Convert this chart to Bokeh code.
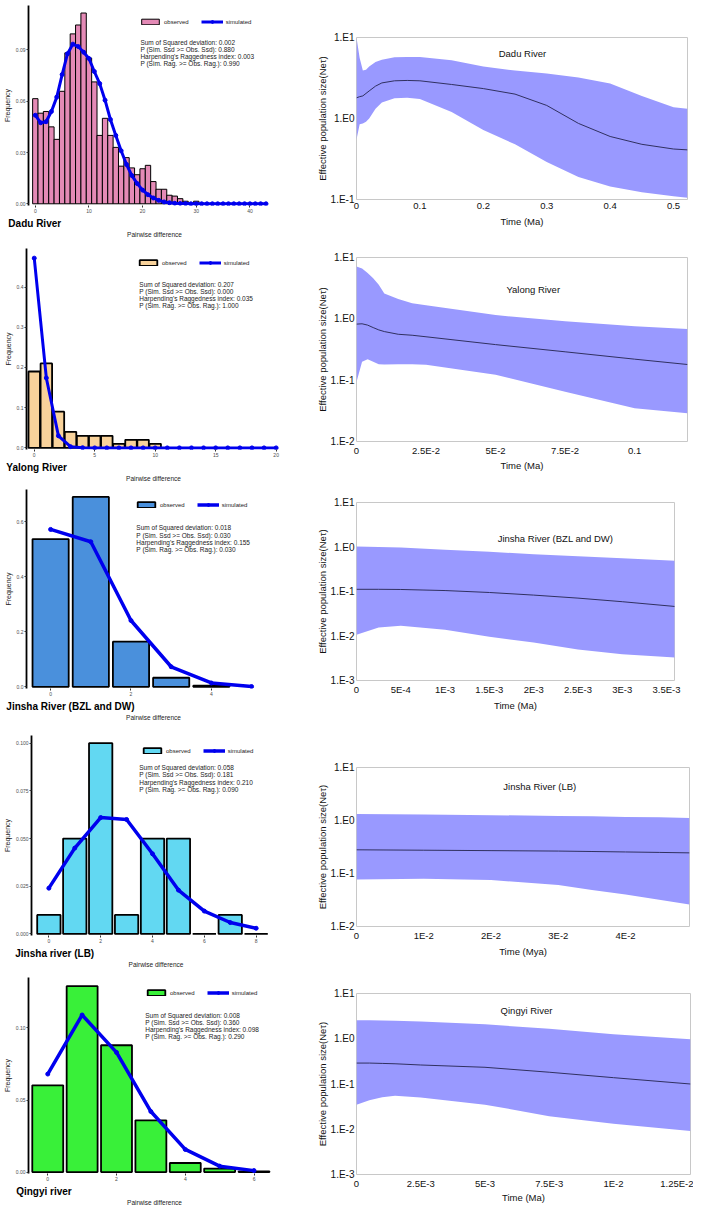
from bokeh.plotting import figure
from bokeh.layouts import row, column
from bokeh.models import (FixedTicker, PrintfTickFormatter, CustomJSTickFormatter,
                          Label, Legend, LegendItem, Range1d, Title)
from bokeh.embed import file_html
from bokeh.resources import INLINE

FONT = "Liberation Sans"

# ------------------------------------------------------------------ data
# Mismatch distributions: frequency per pairwise difference (0, 1, 2, ...)
dadu_observed = [0.0615, 0.053, 0.054, 0.045, 0.0377, 0.0658, 0.0883, 0.0994, 0.1046, 0.1116,
                 0.0853, 0.0713, 0.040, 0.050, 0.040, 0.033, 0.022, 0.027, 0.021, 0.017,
                 0.0205, 0.0225, 0.013, 0.0085, 0.0085, 0.005, 0.0045, 0.003, 0.0015, 0.0, 0.0015]
dadu_simulated = [0.0518, 0.0474, 0.048, 0.054, 0.0624, 0.0756, 0.0878, 0.0934, 0.092, 0.0887,
                  0.085, 0.0774, 0.0703, 0.0606, 0.0493, 0.040, 0.031, 0.023, 0.0165, 0.0118,
                  0.008, 0.0053, 0.0034, 0.002, 0.0011, 0.0006, 0.0003, 0.0002, 0.0001, 0.0,
                  0.0, 0.0, 0.0, 0.0, 0.0, 0.0, 0.0, 0.0, 0.0, 0.0, 0.0, 0.0, 0.0, 0.0]
yalong_observed = [0.19, 0.21, 0.09, 0.04, 0.03, 0.03, 0.03, 0.01, 0.02, 0.02, 0.01]
yalong_simulated = [0.472, 0.174, 0.030, 0.003, 0.0005, 0.0, 0.0, 0.0, 0.0, 0.0, 0.0,
                    0.0, 0.0, 0.0, 0.0, 0.0, 0.0, 0.0, 0.0, 0.0, 0.0]
jinsha_bd_observed = [0.537, 0.690, 0.164, 0.033, 0.004]
jinsha_bd_simulated = [0.572, 0.527, 0.241, 0.073, 0.014, 0.001]
jinsha_lb_observed = [0.01, 0.05, 0.10, 0.01, 0.05, 0.05, 0.0, 0.01, 0.0]
jinsha_lb_simulated = [0.024, 0.045, 0.061, 0.060, 0.042, 0.023, 0.012, 0.006, 0.003]
qingyi_observed = [0.0602, 0.129, 0.088, 0.0359, 0.0063, 0.0024, 0.0004]
qingyi_simulated = [0.068, 0.109, 0.083, 0.042, 0.0157, 0.0041, 0.001]

river_names_left = ["Dadu River", "Yalong River", "Jinsha River (BZL and DW)",
                    "Jinsha river (LB)", "Qingyi river"]
stats_values = [
    ["0.002", "0.880", "0.003", "0.990"],
    ["0.207", "0.000", "0.035", "1.000"],
    ["0.018", "0.030", "0.155", "0.030"],
    ["0.058", "0.181", "0.210", "0.090"],
    ["0.008", "0.360", "0.098", "0.290"],
]
stats_names = ["Sum of Squared deviation: ", "P (Sim. Ssd >= Obs. Ssd): ",
               "Harpending's Raggedness index: ", "P (Sim. Rag. >= Obs. Rag.): "]

# Bayesian skyline plots: time, lower 95% HPD, median, upper 95% HPD
dadu_time = [0, 0.005, 0.01, 0.015, 0.02, 0.03, 0.04, 0.06, 0.08, 0.1, 0.15, 0.2, 0.25, 0.3,
             0.35, 0.4, 0.45, 0.5, 0.522]
dadu_lower = [0.55, 0.85, 0.87, 0.91, 1.0, 1.32, 1.58, 1.78, 1.8, 1.74, 1.2, 0.72, 0.48, 0.29,
              0.19, 0.145, 0.123, 0.11, 0.105]
dadu_median = [1.8, 1.86, 1.9, 2.04, 2.19, 2.51, 2.75, 2.92, 2.95, 2.92, 2.63, 2.34, 2.0, 1.45,
               0.87, 0.60, 0.48, 0.42, 0.41]
dadu_upper = [10.0, 5.6, 3.9, 4.0, 4.4, 5.0, 5.3, 5.7, 5.75, 5.75, 5.25, 4.4, 3.9, 3.6, 3.2,
              2.7, 1.9, 1.38, 1.32]

yalong_time = [0, 0.002, 0.004, 0.006, 0.008, 0.01, 0.015, 0.02, 0.025, 0.05, 0.075, 0.1, 0.119]
yalong_lower = [0.093, 0.2, 0.22, 0.2, 0.182, 0.18, 0.182, 0.182, 0.178, 0.123, 0.065, 0.035, 0.029]
yalong_median = [0.82, 0.83, 0.79, 0.72, 0.66, 0.62, 0.56, 0.54, 0.51, 0.38, 0.29, 0.22, 0.18]
yalong_upper = [7.1, 6.6, 5.6, 4.6, 3.6, 2.6, 2.1, 1.8, 1.66, 1.15, 0.91, 0.76, 0.68]

jinsha_bd_time = [0, 0.00025, 0.0005, 0.001, 0.0015, 0.002, 0.0025, 0.003, 0.0036]
jinsha_bd_lower = [0.0107, 0.0155, 0.017, 0.0138, 0.0096, 0.0071, 0.0050, 0.0039, 0.0033]
jinsha_bd_median = [0.112, 0.112, 0.111, 0.105, 0.095, 0.083, 0.071, 0.059, 0.046]
jinsha_bd_upper = [1.02, 1.0, 0.98, 0.87, 0.78, 0.69, 0.62, 0.56, 0.49]

jinsha_lb_time = [0, 0.01, 0.02, 0.03, 0.035, 0.04, 0.045, 0.0495]
jinsha_lb_lower = [0.077, 0.080, 0.075, 0.061, 0.049, 0.040, 0.032, 0.026]
jinsha_lb_median = [0.28, 0.275, 0.27, 0.265, 0.26, 0.255, 0.25, 0.245]
jinsha_lb_upper = [1.32, 1.30, 1.26, 1.22, 1.2, 1.17, 1.15, 1.12]

qingyi_time = [0, 0.0005, 0.001, 0.0015, 0.0025, 0.005, 0.0075, 0.01, 0.013]
qingyi_lower = [0.035, 0.044, 0.051, 0.055, 0.05, 0.035, 0.0195, 0.0132, 0.0091]
qingyi_median = [0.29, 0.29, 0.285, 0.28, 0.263, 0.234, 0.182, 0.138, 0.10]
qingyi_upper = [2.57, 2.57, 2.54, 2.51, 2.4, 2.09, 1.66, 1.26, 0.98]

river_names_right = ["Dadu River", "Yalong River", "Jinsha River (BZL and DW)",
                     "Jinsha River (LB)", "Qingyi River"]
time_labels = ["Time (Ma)", "Time (Ma)", "Time (Ma)", "Time (Mya)", "Time (Ma)"]

x_ticks_right = [
    [0, 0.1, 0.2, 0.3, 0.4, 0.5],
    [0, 0.025, 0.05, 0.075, 0.1],
    [0, 0.0005, 0.001, 0.0015, 0.002, 0.0025, 0.003, 0.0035],
    [0, 0.01, 0.02, 0.03, 0.04],
    [0, 0.0025, 0.005, 0.0075, 0.01, 0.0125],
]
x_tick_labels_right = [
    ["0", "0.1", "0.2", "0.3", "0.4", "0.5"],
    ["0", "2.5E-2", "5E-2", "7.5E-2", "0.1"],
    ["0", "5E-4", "1E-3", "1.5E-3", "2E-3", "2.5E-3", "3E-3", "3.5E-3"],
    ["0", "1E-2", "2E-2", "3E-2", "4E-2"],
    ["0", "2.5E-3", "5E-3", "7.5E-3", "1E-2", "1.25E-2"],
]

# ------------------------------------------------------------------ layout constants
TOTAL_W, TOTAL_H = 693, 1205
KX, KY = TOTAL_W / 709, TOTAL_H / 1221       # reference px -> page px
LW = 284
RW = TOTAL_W - LW
L_LEFT, L_RIGHT = 26, 4                       # left-panel borders
R_LEFT = 72
BELOW_L = 29
BAND = "#9999FF"
SIM_BLUE = "#0000EE"

left_geom = [
    dict(top=5, bottom=211, leg=(140, 25), stats=(142, 43), river=6, pw=150),
    dict(top=251, bottom=458, leg=(140, 269), stats=(142, 288), river=6, pw=151),
    dict(top=495, bottom=700, leg=(138, 514), stats=(139, 535), river=6, pw=152),
    dict(top=745, bottom=950, leg=(139, 763), stats=(139, 778), river=10, pw=154),
    dict(top=990, bottom=1193, leg=(146, 1010), stats=(147, 1029), river=14, pw=160),
]
left_style = [
    dict(color="#E48AB6", bw=1.0, blw=1.0, lw=3.0, ms=4, xr=(-1.27, 45.7), yr=(-0.001, 0.116),
         xt=[0, 10, 20, 30, 40], yt=[0, 0.03, 0.06, 0.09], fmt="%.2f"),
    dict(color="#F8D29B", bw=0.95, blw=1.8, lw=3.0, ms=4, xr=(-0.64, 20.36), yr=(-0.004, 0.496),
         xt=[0, 5, 10, 15, 20], yt=[0, 0.1, 0.2, 0.3, 0.4], fmt="%.1f"),
    dict(color="#4A90DC", bw=0.9, blw=1.8, lw=3.5, ms=4, xr=(-0.6, 5.72), yr=(-0.006, 0.717),
         xt=[0, 2, 4], yt=[0, 0.2, 0.4, 0.6], fmt="%.1f"),
    dict(color="#62D8F2", bw=0.9, blw=1.8, lw=3.5, ms=4, xr=(-0.67, 8.94), yr=(-0.0008, 0.104),
         xt=[0, 2, 4, 6, 8], yt=[0, 0.025, 0.05, 0.075, 0.1], fmt="%.3f"),
    dict(color="#39F039", bw=0.9, blw=1.8, lw=3.5, ms=4, xr=(-0.56, 6.77), yr=(-0.001, 0.135),
         xt=[0, 2, 4, 6], yt=[0, 0.05, 0.10], fmt="%.2f"),
]
right_geom = [
    dict(top=37, bottom=202, left=364, right=703, tx=534, ty=53, xls=4, dec=(-1, 1), xr=(0, 0.522)),
    dict(top=260, bottom=447, left=364, right=703, tx=545, ty=293, xls=1, dec=(-2, 1), xr=(0, 0.119)),
    dict(top=509, bottom=690, left=364, right=690, tx=568, ty=546, xls=2, dec=(-3, 1), xr=(0, 0.00359)),
    dict(top=777, bottom=943, left=367, right=705, tx=553, ty=797, xls=2, dec=(-2, 1), xr=(0, 0.0495)),
    dict(top=1006, bottom=1194, left=368, right=706, tx=540, ty=1024, xls=0, dec=(-3, 1), xr=(0, 0.0130)),
]
RIGHT_BOUNDS_REF = [0, 240, 480, 722, 972]

observed_sets = [dadu_observed, yalong_observed, jinsha_bd_observed, jinsha_lb_observed, qingyi_observed]
simulated_sets = [dadu_simulated, yalong_simulated, jinsha_bd_simulated, jinsha_lb_simulated, qingyi_simulated]
sky_sets = [
    (dadu_time, dadu_lower, dadu_median, dadu_upper),
    (yalong_time, yalong_lower, yalong_median, yalong_upper),
    (jinsha_bd_time, jinsha_bd_lower, jinsha_bd_median, jinsha_bd_upper),
    (jinsha_lb_time, jinsha_lb_lower, jinsha_lb_median, jinsha_lb_upper),
    (qingyi_time, qingyi_lower, qingyi_median, qingyi_upper),
]

# vertical bounds of the left panels (frame bottom + room for axis and two titles)
left_bounds = [0]
for g in left_geom[:-1]:
    left_bounds.append(round(g["bottom"] * KY) + BELOW_L)
left_bounds.append(TOTAL_H)
right_bounds = [round(b * KY) for b in RIGHT_BOUNDS_REF] + [TOTAL_H]


def left_panel(i):
    g, st = left_geom[i], left_style[i]
    obs, sim = observed_sets[i], simulated_sets[i]
    top, h = left_bounds[i], left_bounds[i + 1] - left_bounds[i]
    ft = round(g["top"] * KY) - top
    fb = round(g["bottom"] * KY) - top
    fw = LW - L_LEFT - L_RIGHT
    fh = fb - ft
    xr, yr = st["xr"], st["yr"]
    p = figure(width=LW, height=h, x_range=Range1d(*xr), y_range=Range1d(*yr), title=None,
               toolbar_location=None, output_backend="svg",
               min_border_left=L_LEFT, min_border_right=L_RIGHT,
               min_border_top=ft, min_border_bottom=h - fb)
    p.outline_line_color = None
    p.xgrid.visible = False
    p.ygrid.visible = False

    xo = list(range(len(obs)))
    xs = list(range(len(sim)))
    bars = p.vbar(x=xo, top=obs, bottom=0, width=st["bw"], fill_color=st["color"],
                  line_color="black", line_width=st["blw"])
    ln = p.line(xs, sim, line_color=SIM_BLUE, line_width=st["lw"])
    pts = p.scatter(xs, sim, size=st["ms"], fill_color=SIM_BLUE, line_color=SIM_BLUE)

    for ax in (p.xaxis[0], p.yaxis[0]):
        ax.major_tick_line_color = "#333333"
        ax.major_tick_out = 2
        ax.major_tick_in = 0
        ax.minor_tick_line_color = None
        ax.major_label_text_font = FONT
        ax.major_label_text_font_size = "5px"
        ax.major_label_text_color = "#4d4d4d"
        ax.major_label_standoff = 1
    p.yaxis.axis_line_color = "black"
    p.yaxis.axis_line_width = 1.8
    p.yaxis.axis_label = "Frequency"
    p.yaxis.axis_label_text_font = FONT
    p.yaxis.axis_label_text_font_size = "7px"
    p.yaxis.axis_label_text_font_style = "normal"
    p.yaxis.axis_label_text_color = "#222222"
    p.yaxis.axis_label_standoff = 2
    p.yaxis.ticker = FixedTicker(ticks=st["yt"], minor_ticks=[])
    p.yaxis.formatter = PrintfTickFormatter(format=st["fmt"])
    p.xaxis.axis_line_color = None
    p.xaxis.ticker = FixedTicker(ticks=st["xt"], minor_ticks=[])

    # river name (bold, left) and axis title (centred) below the axis
    p.add_layout(Title(text=river_names_left[i], align="left", standoff=0,
                       offset=g["river"] * KX - L_LEFT,
                       text_font=FONT, text_font_size="10px", text_font_style="bold",
                       text_color="black"), "below")
    p.add_layout(Title(text="Pairwise difference", align="center", standoff=0,
                       offset=g["pw"] * KX - (L_LEFT + fw / 2),
                       text_font=FONT, text_font_size="6.5px", text_font_style="normal",
                       text_color="#222222"), "below")

    def xd(ref_x):
        return xr[0] + (ref_x * KX - L_LEFT) / fw * (xr[1] - xr[0])

    def yd(ref_y):
        return yr[0] + (fb + top - ref_y * KY) / fh * (yr[1] - yr[0])

    lx, ly = g["leg"]
    legend = Legend(items=[LegendItem(label="observed", renderers=[bars]),
                           LegendItem(label="simulated", renderers=[ln, pts])],
                    location=(round(lx * KX - L_LEFT), round(fb + top - ly * KY - 3.5)),
                    orientation="horizontal", glyph_width=22, glyph_height=7, label_height=7,
                    label_text_font=FONT, label_text_font_size="6px", label_text_color="#222222",
                    label_standoff=3, spacing=12, padding=0, margin=0,
                    border_line_color=None, background_fill_alpha=0)
    p.add_layout(legend)

    sx, sy = g["stats"]
    for k, (name, val) in enumerate(zip(stats_names, stats_values[i])):
        p.add_layout(Label(x=xd(sx), y=yd(sy + 7.3 * k), text=name + val, text_font=FONT,
                           text_font_size="6.5px", text_color="#222222",
                           text_align="left", text_baseline="middle"))
    return p


def right_panel(i):
    g = right_geom[i]
    t, lo, med, hi = sky_sets[i]
    top, h = right_bounds[i], right_bounds[i + 1] - right_bounds[i]
    ft = round(g["top"] * KY) - top
    fb = round(g["bottom"] * KY) - top
    fr = round(g["right"] * KX) - LW
    xr = g["xr"]
    d0, d1 = g["dec"]
    p = figure(width=RW, height=h, x_range=Range1d(*xr), y_range=Range1d(10.0 ** d0, 10.0 ** d1),
               y_axis_type="log", title=None, toolbar_location=None, output_backend="svg",
               min_border_left=R_LEFT, min_border_right=max(RW - fr, 2),
               min_border_top=ft, min_border_bottom=h - fb)
    p.outline_line_color = "#c8c8c8"
    p.outline_line_width = 1
    p.xgrid.visible = False
    p.ygrid.visible = False

    p.varea(x=t, y1=lo, y2=hi, fill_color=BAND)
    p.line(t, med, line_color="#303060", line_width=1)

    for ax in (p.xaxis[0], p.yaxis[0]):
        ax.axis_line_color = None
        ax.major_tick_line_color = None
        ax.minor_tick_line_color = None
        ax.major_tick_out = 0
        ax.major_tick_in = 0
        ax.major_label_text_font = FONT
        ax.major_label_text_font_size = "9.5px"
        ax.major_label_text_color = "#111111"
        ax.axis_label_text_font = FONT
        ax.axis_label_text_font_size = "9.5px"
        ax.axis_label_text_font_style = "normal"
        ax.axis_label_text_color = "#111111"
    p.yaxis.major_label_text_font_size = "10px"
    p.yaxis.major_label_standoff = 2
    p.yaxis.axis_label = "Effective population size(Neτ)"
    p.yaxis.axis_label_standoff = 0
    p.yaxis.ticker = FixedTicker(ticks=[10.0 ** k for k in range(d0, d1 + 1)], minor_ticks=[])
    p.yaxis.formatter = CustomJSTickFormatter(code="return '1.E' + Math.round(Math.log10(tick));")
    p.xaxis.major_label_standoff = 3
    p.xaxis.axis_label = time_labels[i]
    p.xaxis.axis_label_standoff = g["xls"]
    p.xaxis.ticker = FixedTicker(ticks=x_ticks_right[i], minor_ticks=[])
    p.xaxis.formatter = CustomJSTickFormatter(
        args=dict(vals=x_ticks_right[i], labs=x_tick_labels_right[i]),
        code="""
let best = 0, bd = Infinity;
for (let k = 0; k < vals.length; k++) {
  const d = Math.abs(vals[k] - tick);
  if (d < bd) { bd = d; best = k; }
}
return labs[best];
""")

    fx = (g["tx"] - g["left"]) / (g["right"] - g["left"])
    fy = (g["ty"] - g["top"]) / (g["bottom"] - g["top"])
    p.add_layout(Label(x=xr[0] + fx * (xr[1] - xr[0]), y=10.0 ** (d1 - fy * (d1 - d0)),
                       text=river_names_right[i], text_font=FONT, text_font_size="9.5px",
                       text_color="#111111", text_align="center", text_baseline="middle"))
    return p


# each figure sits in its own row so the columns do not align the plot frames
left_col = column(*[row(left_panel(i)) for i in range(5)])
right_col = column(*[row(right_panel(i)) for i in range(5)])
layout = row(left_col, right_col)

open("out.html", "w").write(file_html(layout, INLINE))
